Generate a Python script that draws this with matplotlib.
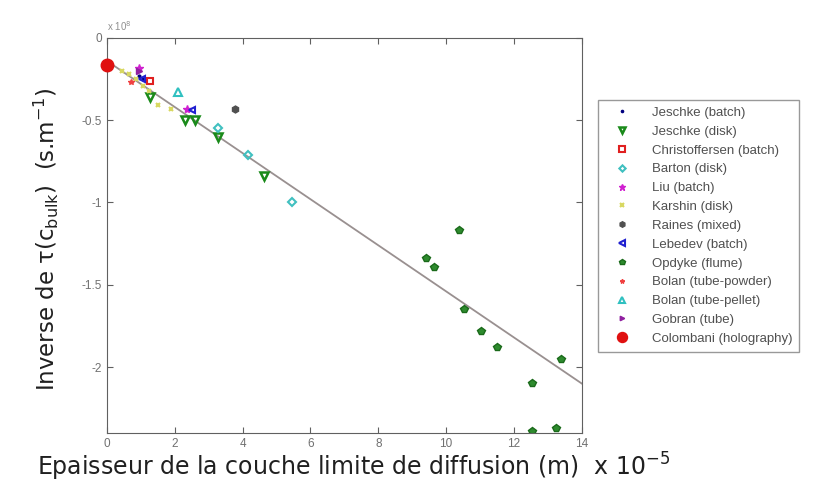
import matplotlib
matplotlib.use("Agg")
import matplotlib.pyplot as plt
import numpy as np

# ---- data (x in 1e-5 m, y in 1e8 s.m^-1) ----
jeschke_batch_x = [0.95, 1.05]
jeschke_batch_y = [-0.23, -0.25]
jeschke_disk_x = [1.27, 2.3, 2.6, 3.27, 4.63]
jeschke_disk_y = [-0.36, -0.50, -0.50, -0.60, -0.84]
christoffersen_x = [1.27]
christoffersen_y = [-0.26]
barton_x = [3.27, 4.16, 5.46]
barton_y = [-0.55, -0.71, -1.00]
liu_x = [0.94, 2.36]
liu_y = [-0.18, -0.43]
karshin_x = [0.45, 0.65, 0.85, 1.05, 1.25, 1.5, 1.9]
karshin_y = [-0.20, -0.22, -0.25, -0.29, -0.32, -0.41, -0.43]
raines_x = [3.78]
raines_y = [-0.43]
lebedev_x = [1.03, 2.5]
lebedev_y = [-0.25, -0.44]
opdyke_x = [10.38, 9.4, 9.65, 10.53, 11.03, 11.5, 13.4, 12.54, 12.54, 13.25]
opdyke_y = [-1.165, -1.34, -1.39, -1.65, -1.78, -1.88, -1.95, -2.10, -2.39, -2.37]
bolan_powder_x = [0.7]
bolan_powder_y = [-0.27]
bolan_pellet_x = [2.1]
bolan_pellet_y = [-0.33]
gobran_x = [0.95]
gobran_y = [-0.20]
colombani_x = [0.0]
colombani_y = [-0.165]
fit_x = [0.0, 14.0]
fit_y = [-0.14, -2.10]

fig = plt.figure(figsize=(8.17, 4.93), dpi=100)
ax = fig.add_axes([0.131, 0.122, 0.581, 0.801])

ax.plot(fit_x, fit_y, color="#999090", lw=1.3, zorder=1)

ms = 5
ax.plot(jeschke_batch_x, jeschke_batch_y, ".", color="#000080", ms=4, label="Jeschke (batch)", ls="none")
ax.plot(jeschke_disk_x, jeschke_disk_y, "v", mfc="none", mec="#1a8a1a", mew=1.8, ms=ms+1, label="Jeschke (disk)", ls="none")
ax.plot(christoffersen_x, christoffersen_y, "s", mfc="none", mec="#e02020", mew=1.5, ms=ms, label="Christoffersen (batch)", ls="none")
ax.plot(barton_x, barton_y, "D", mfc="none", mec="#40c0c0", mew=1.5, ms=ms-1, label="Barton (disk)", ls="none")
ax.plot(liu_x, liu_y, "*", color="#d020d0", ms=ms+1, label="Liu (batch)", ls="none")
ax.plot(karshin_x, karshin_y, "x", color="#d8d860", mew=1.5, ms=3.5, label="Karshin (disk)", ls="none")
ax.plot(raines_x, raines_y, "h", color="#505050", ms=ms, label="Raines (mixed)", ls="none")
ax.plot(lebedev_x, lebedev_y, "<", mfc="none", mec="#2020d0", mew=1.5, ms=ms, label="Lebedev (batch)", ls="none")
ax.plot(opdyke_x, opdyke_y, "p", color="#2e8b2e", mec="#1a6a1a", ms=ms+0.5, label="Opdyke (flume)", ls="none")
ax.plot(bolan_powder_x, bolan_powder_y, "*", color="#f04040", ms=ms-1, label="Bolan (tube-powder)", ls="none")
ax.plot(bolan_pellet_x, bolan_pellet_y, "^", mfc="none", mec="#30c0c0", mew=1.5, ms=ms+1, label="Bolan (tube-pellet)", ls="none")
ax.plot(gobran_x, gobran_y, ">", color="#9020a0", ms=ms-1, label="Gobran (tube)", ls="none")
ax.plot(colombani_x, colombani_y, "o", color="#e01010", ms=9, label="Colombani (holography)", ls="none", clip_on=False, zorder=5)

ax.set_xlim(0, 14)
ax.set_ylim(-2.4, 0)
ax.set_xticks(np.arange(0, 15, 2))
ax.set_yticks([-2, -1.5, -1, -0.5, 0])
ax.set_yticklabels(["-2", "-1.5", "-1", "-0.5", "0"])
ax.tick_params(direction="in", top=True, right=True, labelsize=8.5, labelcolor="#707070",
               color="#606060", length=4, width=0.8)
for lab in ax.get_xticklabels() + ax.get_yticklabels():
    lab.set_family("Liberation Sans")
for s in ax.spines.values():
    s.set_color("#606060")

ax.set_xlabel(r"Epaisseur de la couche limite de diffusion (m)  x 10$^{-5}$", fontsize=17, color="#202020")
ax.xaxis.set_label_coords(0.52, -0.045)
ax.set_ylabel(r"Inverse de τ(c$_{\mathrm{bulk}}$)  (s.m$^{-1}$)", fontsize=16.5, color="#202020")
ax.yaxis.set_label_coords(-0.098, 0.49)
ax.text(0.0, 1.012, r"x 10$^{8}$", transform=ax.transAxes, fontsize=7, color="#909090",
        family="Liberation Sans", va="bottom", ha="left")

leg = fig.legend(loc="upper left", bbox_to_anchor=(0.732, 0.797), frameon=True, borderaxespad=0,
                 fancybox=False, edgecolor="#808080", borderpad=0.5, labelspacing=0.5,
                 handletextpad=1.0, handlelength=2.6, markerscale=0.8,
                 prop={"family": "Liberation Sans", "size": 9.5})
for t in leg.get_texts():
    t.set_color("#505050")

fig.savefig("out.png", dpi=100)
